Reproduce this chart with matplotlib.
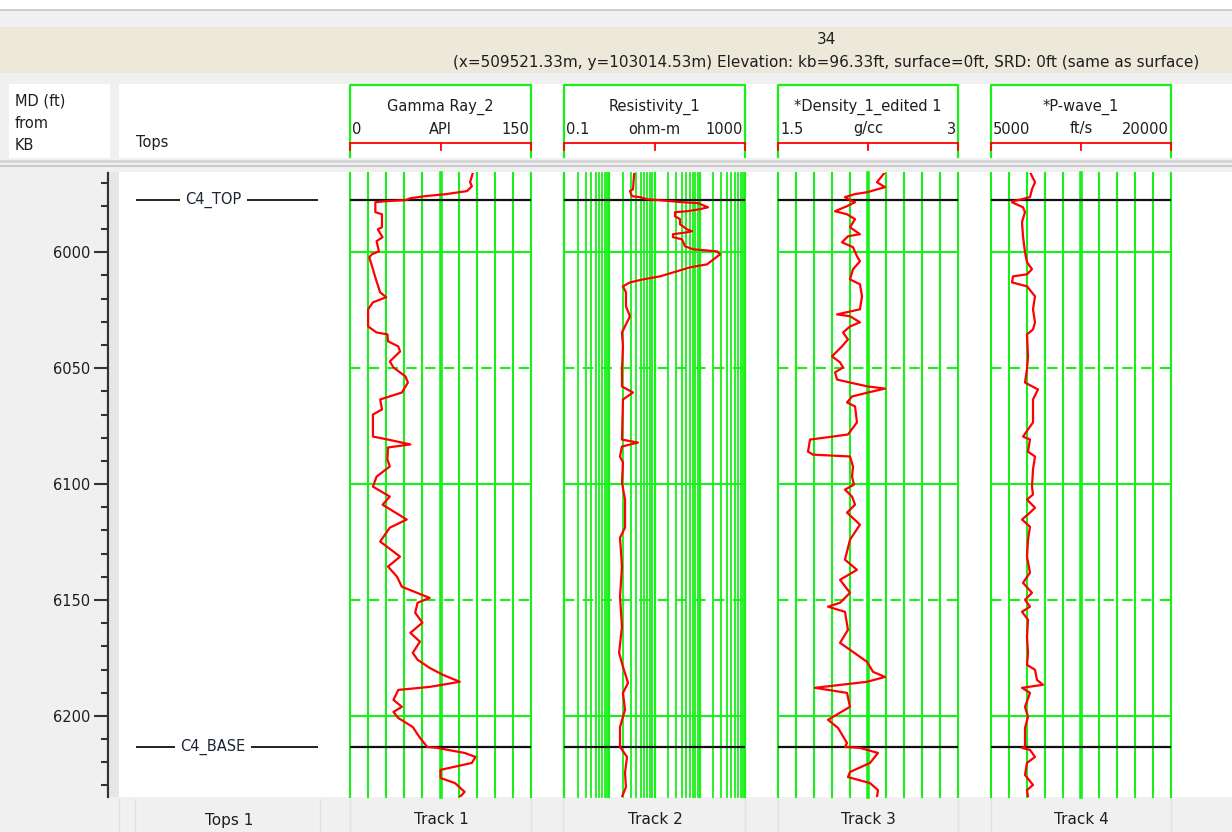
import numpy as np
import matplotlib.pyplot as plt
from matplotlib.patches import Rectangle
from matplotlib.ticker import MultipleLocator, NullFormatter

plt.rcParams['font.family'] = ['DejaVu Sans']

top_depth, bottom_depth = 5965.8, 6235.0

tops_names = ['C4_TOP', 'C4_BASE']
tops_md = [5977.5, 6213.4]

gr_depth = [5965.4, 5969.8, 5971.5, 5973.6, 5974.5, 5974.9, 5975.8, 5976.7, 5977.5, 5978.0,
            5978.4, 5982.7, 5983.6, 5989.2, 5990.1, 5993.5, 5995.2, 5999.6, 6000.9, 6002.2,
            6007.3, 6011.7, 6017.3, 6019.4, 6021.6, 6024.6, 6032.0, 6034.6, 6035.4, 6038.4,
            6040.6, 6042.8, 6047.1, 6049.7, 6053.6, 6056.2, 6060.5, 6063.5, 6067.8, 6070.0,
            6079.5, 6080.8, 6082.9, 6084.2, 6089.4, 6092.4, 6096.8, 6101.1, 6105.4, 6108.9,
            6115.3, 6118.8, 6124.8, 6131.3, 6135.6, 6140.0, 6144.3, 6149.1, 6151.2, 6155.5,
            6159.8, 6164.2, 6168.0, 6172.8, 6175.8, 6179.3, 6182.3, 6185.3, 6187.5, 6188.8,
            6193.1, 6196.1, 6198.3, 6200.9, 6204.8, 6209.5, 6213.4, 6213.8, 6216.0, 6217.7,
            6220.3, 6223.3, 6226.8, 6229.0, 6232.8, 6235.0]
gr_api = [102, 99.5, 101, 97, 85, 80, 62, 50, 46, 29,
          21, 21, 26.5, 26.5, 23, 27, 22, 24, 18, 16,
          19, 21.5, 25, 30, 19, 15, 15, 22, 31, 31.5,
          40, 41.5, 33, 36, 46, 48, 43, 25, 26.5, 19,
          19, 31.5, 50, 31.5, 31, 33, 22, 19, 33, 27,
          47, 33, 25, 41.5, 31.5, 39, 43, 66, 56, 54,
          60, 50, 58, 52, 56, 66, 77, 91, 66, 40,
          36, 43, 36, 40, 52, 58, 64, 72, 95, 104,
          101, 75, 75, 87, 95, 91]

res_depth = [5965.4, 5972.8, 5973.6, 5975.8, 5976.2, 5977.1, 5978.0, 5978.4, 5978.8, 5980.6,
             5981.4, 5982.3, 5982.7, 5984.5, 5985.7, 5987.9, 5990.1, 5990.9, 5991.4, 5992.2,
             5993.5, 5994.4, 5997.4, 5998.7, 5999.6, 6000.9, 6005.2, 6006.5, 6008.2, 6010.4,
             6011.7, 6013.0, 6014.7, 6017.3, 6023.3, 6027.6, 6034.6, 6040.6, 6050.5, 6057.9,
             6060.5, 6063.5, 6080.8, 6082.1, 6083.8, 6088.1, 6090.7, 6099.4, 6106.7, 6118.8,
             6123.1, 6135.6, 6148.6, 6161.6, 6172.8, 6178.8, 6185.8, 6190.1, 6197.4, 6204.8,
             6213.4, 6217.7, 6224.6, 6230.7, 6235.0]
res_ohmm = [3.57, 3.35, 2.87, 3.18, 4.78, 6.83, 24.4, 40.5, 91.5, 152,
            101, 52.3, 28.4, 28.4, 36.6, 36.6, 52.3, 67.4, 52.3, 25.6,
            25.6, 40.5, 47.2, 71.0, 240, 281, 145, 60.9, 31.4, 13.2,
            5.57, 2.87, 2.01, 2.34, 2.34, 2.87, 1.91, 2.01, 1.91, 1.91,
            3.35, 2.01, 1.91, 4.32, 1.91, 1.73, 2.01, 1.91, 2.23, 2.23,
            1.73, 1.91, 1.73, 1.91, 1.65, 2.01, 2.60, 2.01, 2.23, 1.73,
            1.73, 2.47, 2.23, 2.34, 1.91]

den_depth = [5965.4, 5969.8, 5971.9, 5974.1, 5974.9, 5976.2, 5977.5, 5978.4, 5980.1, 5982.3,
             5983.6, 5985.7, 5989.2, 5992.2, 5993.1, 5995.7, 5997.8, 6001.7, 6003.9, 6007.3,
             6011.7, 6013.8, 6019.0, 6024.6, 6026.8, 6027.6, 6030.2, 6032.0, 6034.6, 6037.6,
             6040.6, 6044.9, 6047.5, 6049.7, 6051.8, 6054.9, 6056.2, 6057.9, 6058.8, 6060.5,
             6062.2, 6064.8, 6066.5, 6073.4, 6078.6, 6079.5, 6080.8, 6086.0, 6087.3, 6088.1,
             6092.4, 6096.8, 6100.2, 6102.4, 6105.4, 6108.9, 6112.3, 6117.5, 6124.0, 6132.6,
             6137.0, 6141.3, 6146.9, 6151.2, 6152.9, 6155.1, 6162.9, 6168.5, 6171.5, 6176.7,
             6181.0, 6183.2, 6185.3, 6187.9, 6190.1, 6196.1, 6201.7, 6205.2, 6211.7, 6213.4,
             6213.8, 6216.0, 6220.3, 6224.2, 6226.4, 6229.0, 6232.0, 6235.0]
den_gcc = [2.392, 2.325, 2.392, 2.242, 2.142, 2.058, 2.100, 2.142, 2.075, 1.975,
           2.075, 2.142, 2.100, 2.183, 2.083, 2.033, 2.125, 2.158, 2.183, 2.125,
           2.100, 2.183, 2.200, 2.183, 1.992, 2.100, 2.183, 2.100, 2.042, 2.083,
           2.033, 1.950, 2.017, 2.042, 1.975, 1.992, 2.100, 2.250, 2.392, 2.250,
           2.117, 2.075, 2.142, 2.158, 2.083, 1.958, 1.767, 1.750, 1.792, 2.100,
           2.125, 2.117, 2.133, 2.058, 2.117, 2.142, 2.075, 2.183, 2.100, 2.058,
           2.158, 2.017, 2.100, 2.017, 1.917, 2.058, 2.083, 2.017, 2.100, 2.242,
           2.292, 2.392, 2.242, 1.808, 2.075, 2.100, 1.917, 2.000, 2.075, 2.058,
           2.183, 2.333, 2.267, 2.100, 2.083, 2.267, 2.333, 2.325]

pw_depth = [5965.4, 5969.8, 5972.8, 5976.2, 5977.1, 5978.0, 5978.4, 5980.6, 5982.7, 5987.0,
            5993.1, 6000.0, 6004.3, 6007.3, 6009.5, 6010.4, 6013.0, 6014.7, 6019.0, 6024.6,
            6030.2, 6033.3, 6035.4, 6044.9, 6050.5, 6056.2, 6059.2, 6063.5, 6073.4, 6079.5,
            6080.8, 6086.0, 6088.1, 6093.7, 6101.1, 6104.5, 6106.7, 6110.2, 6112.3, 6115.3,
            6118.4, 6124.0, 6131.3, 6138.2, 6142.6, 6146.9, 6149.9, 6152.9, 6155.1, 6158.5,
            6165.9, 6172.8, 6178.0, 6180.1, 6184.5, 6186.6, 6187.9, 6190.1, 6196.1, 6200.4,
            6205.2, 6213.4, 6213.8, 6214.7, 6217.7, 6220.3, 6225.5, 6229.8, 6232.0, 6235.0]
pw_fts = [8250, 8667, 8417, 8250, 7583, 6833, 6750, 7667, 7833, 7583,
          7667, 7833, 8000, 8417, 8000, 6833, 6750, 8000, 8667, 8500,
          8667, 8500, 8000, 8083, 8000, 7833, 8917, 8500, 8500, 7667,
          8250, 8083, 8667, 8500, 8417, 8500, 8000, 8667, 8250, 7583,
          8250, 8083, 8000, 8250, 7667, 8417, 7833, 8250, 7583, 8083,
          8000, 8083, 8000, 8667, 8833, 9333, 7583, 8250, 7833, 8083,
          7833, 7833, 7583, 8250, 8667, 8000, 7833, 8500, 8000, 8083]

# ---- figure, pixel based layout ----
W, H = 1232, 832
fig = plt.figure(figsize=(W / 100, H / 100), dpi=100)


def px_axes(x0, y0, x1, y1):
    return fig.add_axes([x0 / W, 1 - y1 / H, (x1 - x0) / W, (y1 - y0) / H])


bg = px_axes(0, 0, W, H)
bg.set_xlim(0, W)
bg.set_ylim(H, 0)
bg.axis('off')


def box(x0, y0, x1, y1, color):
    bg.add_patch(Rectangle((x0, y0), x1 - x0, y1 - y0, facecolor=color, edgecolor='none'))


text_col = '#1e1e1e'
green = '#19f019'
red = '#ff0000'

box(0, 0, W, H, '#f0f0f0')
box(0, 0, W, 9, 'white')
bg.plot([0, W], [9.5, 9.5], color='#c8c8c8', lw=1.2)
box(0, 27, W, 73, '#ece9da')
bg.text(826, 40, '34', ha='center', va='center', fontsize=11, color=text_col)
bg.text(826, 62, '(x=509521.33m, y=103014.53m) Elevation: kb=96.33ft, surface=0ft, SRD: 0ft (same as surface)',
        ha='center', va='center', fontsize=11, color=text_col)

# header row
box(9, 84, 110, 158, 'white')
box(119, 84, W, 158, 'white')
bg.text(15, 101, 'MD (ft)', ha='left', va='center', fontsize=10.5, color=text_col)
bg.text(15, 124, 'from', ha='left', va='center', fontsize=10.5, color=text_col)
bg.text(15, 146, 'KB', ha='left', va='center', fontsize=10.5, color=text_col)
bg.text(136, 142, 'Tops', ha='left', va='center', fontsize=10.5, color=text_col)
bg.plot([0, W], [161, 161], color='#d4d4d4', lw=2)
bg.plot([0, W], [166, 166], color='#c4c4c4', lw=1.2)

# body
box(119, 172, W, 797, 'white')
box(110, 172, 119, 797, '#e6e6e6')

# bottom bar
box(0, 797, W, H, '#f0f0f0')
for xs in [119, 135, 320, 350, 531, 563, 745, 778, 958, 991, 1171]:
    bg.plot([xs, xs], [799, H], color='#dbe3ec', lw=1)
bottom_labels = ['Tops 1', 'Track 1', 'Track 2', 'Track 3', 'Track 4']
bottom_x = [229, 441, 655, 868, 1081]
for lab, xc in zip(bottom_labels, bottom_x):
    bg.text(xc, 820, lab, ha='center', va='center', fontsize=11, color=text_col)

# ---- depth axis ----
axd = px_axes(108, 173, 109, 797)
axd.set_ylim(bottom_depth, top_depth)
axd.set_xticks([])
for s in ['right', 'top', 'bottom']:
    axd.spines[s].set_visible(False)
axd.spines['left'].set_color('#333333')
axd.spines['left'].set_linewidth(1.6)
axd.set_facecolor('none')
axd.yaxis.set_major_locator(MultipleLocator(50))
axd.yaxis.set_minor_locator(MultipleLocator(10))
axd.yaxis.set_minor_formatter(NullFormatter())
axd.tick_params(axis='y', which='major', length=10, width=1.5, color='#333333',
                labelsize=10.5, labelcolor=text_col, pad=3)
axd.tick_params(axis='y', which='minor', length=5, width=1.5, color='#333333')

# ---- tops track ----
axt = px_axes(119, 173, 346, 797)
axt.set_ylim(bottom_depth, top_depth)
axt.set_xlim(0, 1)
axt.axis('off')
for name, md in zip(tops_names, tops_md):
    axt.hlines(md, 0.075, 0.877, color='#111111', lw=1.3)
    axt.text(0.415, md, name, ha='center', va='center', fontsize=10.5, color='#1c2436',
             bbox=dict(facecolor='white', edgecolor='none', pad=4))

# ---- log tracks ----
tracks = [
    dict(x0=350, x1=531, title='Gamma Ray_2', left='0', unit='API', right='150',
         lo=0, hi=150, log=False, depth=gr_depth, vals=gr_api),
    dict(x0=564, x1=745, title='Resistivity_1', left='0.1', unit='ohm-m', right='1000',
         lo=0.1, hi=1000, log=True, depth=res_depth, vals=res_ohmm),
    dict(x0=778, x1=958, title='*Density_1_edited 1', left='1.5', unit='g/cc', right='3',
         lo=1.5, hi=3, log=False, depth=den_depth, vals=den_gcc),
    dict(x0=991, x1=1171, title='*P-wave_1', left='5000', unit='ft/s', right='20000',
         lo=5000, hi=20000, log=False, depth=pw_depth, vals=pw_fts),
]

for t in tracks:
    x0, x1 = t['x0'], t['x1']
    xm = (x0 + x1) / 2
    # header box
    bg.plot([x0, x0, x1, x1], [157, 84.5, 84.5, 157], color=green, lw=1.6)
    bg.text(xm, 107, t['title'], ha='center', va='center', fontsize=10.5, color=text_col)
    bg.text(x0 + 2, 129, t['left'], ha='left', va='center', fontsize=10.5, color=text_col)
    bg.text(xm, 129, t['unit'], ha='center', va='center', fontsize=10.5, color=text_col)
    bg.text(x1 - 2, 129, t['right'], ha='right', va='center', fontsize=10.5, color=text_col)
    bg.plot([x0, x1], [143, 143], color=red, lw=1.3)
    for xt in [x0, xm, x1]:
        bg.plot([xt, xt], [143, 150], color=red, lw=1.3)

    ax = px_axes(x0, 173, x1, 797)
    ax.set_ylim(bottom_depth, top_depth)
    if t['log']:
        ax.set_xscale('log')
    ax.set_xlim(t['lo'], t['hi'])
    ax.axis('off')

    if t['log']:
        decades = [0.1, 1, 10, 100]
        for d in decades:
            for k in range(1, 10):
                ax.axvline(d * k, color=green, lw=1.6 if k == 1 else 1.3, zorder=1,
                           clip_on=False)
        ax.axvline(t['hi'], color=green, lw=1.6, zorder=1, clip_on=False)
    else:
        grid_x = np.linspace(t['lo'], t['hi'], 11)
        for i, gx in enumerate(grid_x):
            ax.axvline(gx, color=green, lw=2.6 if i == 5 else 1.5, zorder=1, clip_on=False)

    for d in [6000, 6100, 6200]:
        ax.axhline(d, color=green, lw=1.5, zorder=1)
    for d in [6050, 6150]:
        ax.axhline(d, color=green, lw=1.5, ls=(0, (5, 4)), zorder=1)

    for md in tops_md:
        ax.axhline(md, color='#111111', lw=1.6, zorder=2)

    ax.plot(t['vals'], t['depth'], color=red, lw=1.6, zorder=3, clip_on=True)

fig.savefig('out.png', dpi=100)
